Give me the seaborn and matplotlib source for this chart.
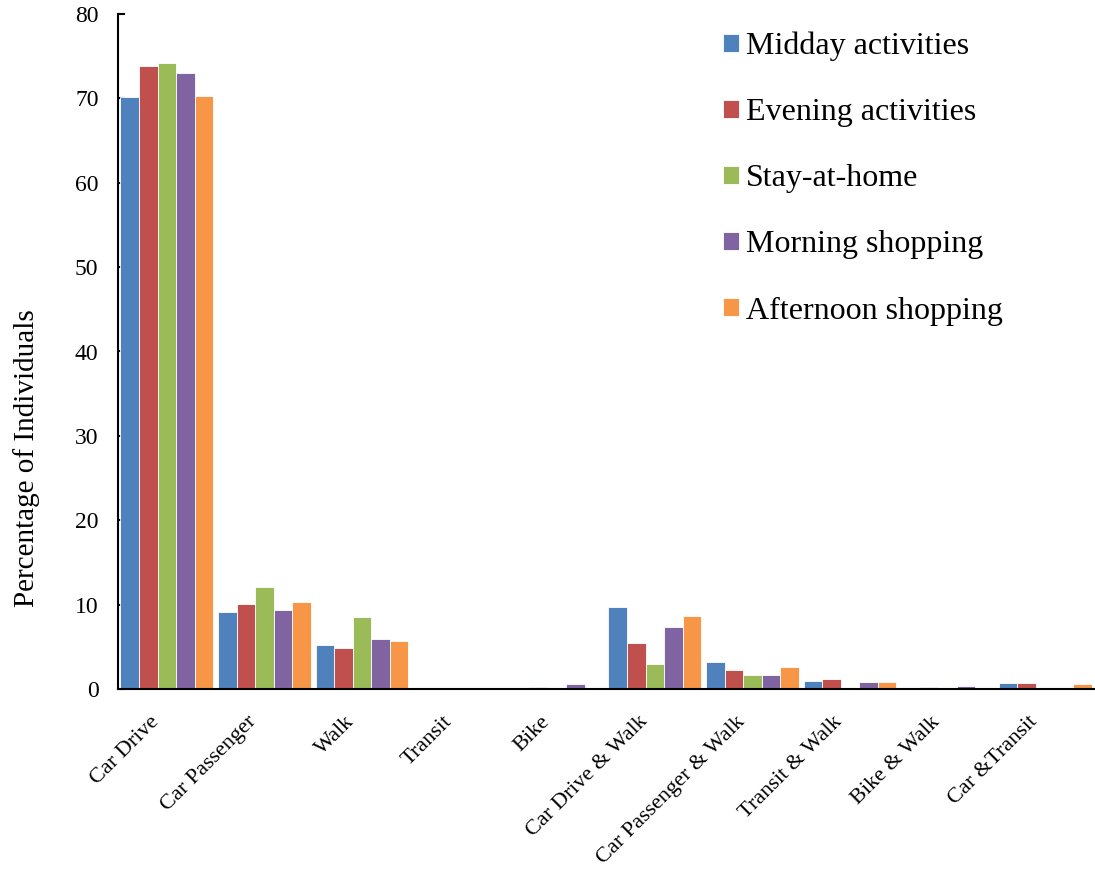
import numpy as np
import pandas as pd
import matplotlib
matplotlib.use("Agg")
import matplotlib.pyplot as plt
import matplotlib.transforms as mtransforms
import seaborn as sns

modes = ["Car Drive", "Car Passenger", "Walk", "Transit", "Bike",
         "Car Drive & Walk", "Car Passenger & Walk", "Transit & Walk",
         "Bike & Walk", "Car &Transit"]

midday    = [70.2, 9.1, 5.25, 0.0, 0.15, 9.7, 3.2, 0.9, 0.0, 0.66]
evening   = [73.8, 10.1, 4.9, 0.15, 0.27, 5.5, 2.25, 1.2, 0.27, 0.66]
stay_home = [74.2, 12.1, 8.5, 0.0, 0.0, 3.0, 1.7, 0.0, 0.0, 0.0]
morning   = [73.0, 9.4, 5.9, 0.0, 0.6, 7.3, 1.7, 0.8, 0.4, 0.15]
afternoon = [70.3, 10.3, 5.7, 0.15, 0.0, 8.7, 2.65, 0.8, 0.0, 0.63]

series = {
    "Midday activities": midday,
    "Evening activities": evening,
    "Stay-at-home": stay_home,
    "Morning shopping": morning,
    "Afternoon shopping": afternoon,
}
colors = ["#4F81BD", "#C0504D", "#9BBB59", "#8064A2", "#F79646"]

df = pd.DataFrame(
    [(m, name, v) for name, vals in series.items() for m, v in zip(modes, vals)],
    columns=["mode", "group", "pct"],
)

sns.set_style("ticks")
plt.rcParams["font.family"] = ["Liberation Serif", "DejaVu Serif"]
plt.rcParams["text.color"] = "black"
plt.rcParams["axes.labelcolor"] = "black"
plt.rcParams["xtick.color"] = "black"
plt.rcParams["ytick.color"] = "black"
plt.rcParams["axes.edgecolor"] = "black"

fig = plt.figure(figsize=(10.95, 8.8), dpi=100)
ax = fig.add_axes([118 / 1095, 1 - 689 / 880, (1094 - 118) / 1095, (689 - 14) / 880])

sns.barplot(data=df, x="mode", y="pct", hue="group", order=modes,
            hue_order=list(series.keys()), palette=colors, width=0.95,
            saturation=1, edgecolor="white", linewidth=0.6, ax=ax)

ax.set_ylim(0, 80)
ax.set_xlim(-0.5, len(modes) - 0.5)
ax.set_yticks(np.arange(0, 81, 10))
ax.tick_params(axis="y", labelsize=17, direction="in", length=5, width=1.5, pad=14)
ax.tick_params(axis="x", length=0, labelsize=16, pad=6)

shift = mtransforms.ScaledTranslation(-17 / 100, -15 / 100, fig.dpi_scale_trans)
for lab in ax.get_xticklabels():
    lab.set_rotation(45)
    lab.set_ha("right")
    lab.set_rotation_mode("anchor")
    lab.set_transform(lab.get_transform() + shift)

ax.set_xlabel("")
ax.set_ylabel("Percentage of Individuals", fontsize=21)
ax.yaxis.set_label_coords(-0.080, 0.342)

for side in ("top", "right"):
    ax.spines[side].set_visible(False)
ax.spines["left"].set_linewidth(1.5)
ax.spines["bottom"].set_linewidth(1.5)

ax.legend(loc="upper left", bbox_to_anchor=(0.600, 1.002), frameon=False,
          fontsize=23, handlelength=0.5, handleheight=0.5, handletextpad=0.22,
          labelspacing=1.16, borderaxespad=0.2)

fig.savefig("out.png", dpi=100)
